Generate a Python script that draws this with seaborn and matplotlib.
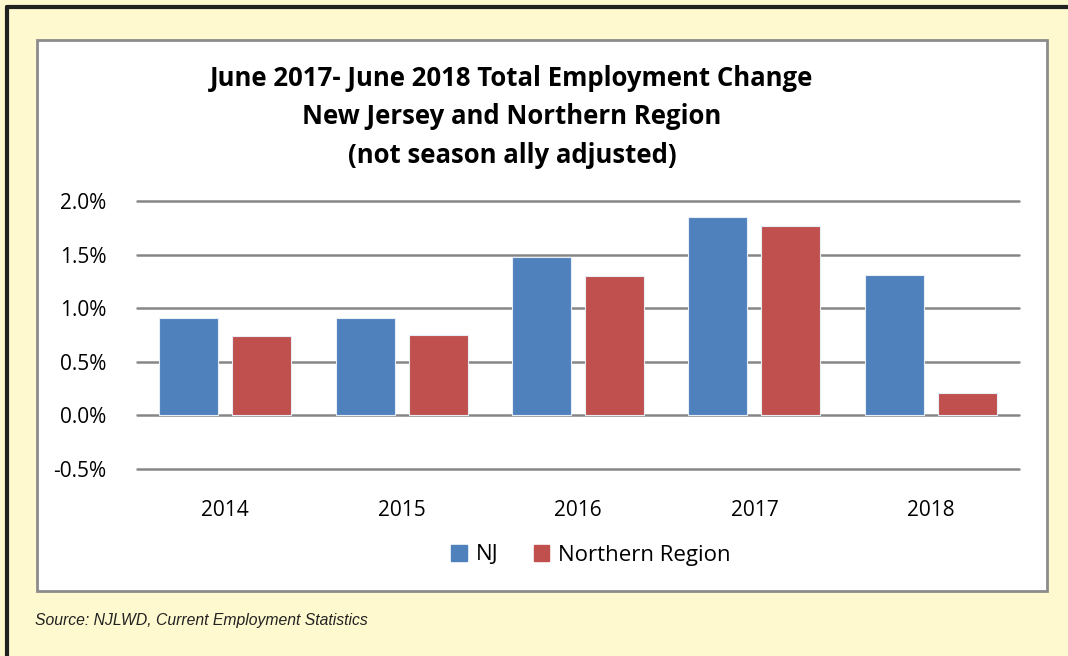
import pandas as pd
import matplotlib
matplotlib.use('agg')
import seaborn as sns
import matplotlib.pyplot as plt
from matplotlib.patches import Rectangle
from matplotlib.lines import Line2D

years = ['2014', '2015', '2016', '2017', '2018']
nj = [0.91, 0.91, 1.48, 1.85, 1.31]
northern = [0.74, 0.75, 1.30, 1.77, 0.21]
series = ['NJ', 'Northern Region']
colors = ['#4F81BD', '#C0504D']
yticks = [-0.5, 0.0, 0.5, 1.0, 1.5, 2.0]

df = pd.DataFrame({
	'year': years * 2,
	'value': nj + northern,
	'series': [series[0]] * len(years) + [series[1]] * len(years),
})

sns.set_style('white')
plt.rcParams['font.family'] = ['Open Sans', 'DejaVu Sans']
plt.rcParams['text.color'] = 'black'
plt.rcParams['xtick.color'] = 'black'
plt.rcParams['ytick.color'] = 'black'

W, H = 1068, 656
fig = plt.figure(figsize=(W / 100, H / 100), dpi=100)
fig.patch.set_facecolor('#FEF9CE')

## outer dark frame (left + top) and inner white chart box, kept behind the axes
fig.add_artist(Line2D([7 / W, 7 / W], [0, 1 - 7 / H], color='#222222', lw=3, zorder=-5))
fig.add_artist(Line2D([7 / W, 1], [1 - 7 / H, 1 - 7 / H], color='#222222', lw=3, zorder=-5))
fig.add_artist(Rectangle((37 / W, 1 - 591 / H), (1047 - 37) / W, (591 - 40) / H,
	transform=fig.transFigure, facecolor='white', edgecolor='#8C8C8C', lw=2, zorder=-5))

ax = fig.add_axes([137 / W, 1 - 469 / H, (1019 - 137) / W, (469 - 201) / H])
ax.set_facecolor('none')
sns.barplot(data=df, x='year', y='value', hue='series', palette=colors,
	width=0.827, gap=0.19, saturation=1, ax=ax, legend=False,
	edgecolor='#E8EEF6', linewidth=0.8)

ax.set_ylim(-0.5, 2.0)
ax.set_xlim(-0.5, 4.5)
ax.set_yticks(yticks)
ax.set_yticklabels(['%.1f%%' % v for v in yticks], fontsize=15)
ax.tick_params(axis='x', labelsize=15, length=0, pad=22)
ax.tick_params(axis='y', length=0, pad=22)
for v in yticks:
	ax.axhline(v, color='#868686', lw=1.8, zorder=0, clip_on=False)
for s in ax.spines.values():
	s.set_visible(False)
ax.set_xlabel('')
ax.set_ylabel('')

fig.text(512 / W, 1 - 117 / H,
	'June 2017- June 2018 Total Employment Change\nNew Jersey and Northern Region\n(not season ally adjusted)',
	ha='center', va='center', fontsize=18.5, fontweight='bold', linespacing=1.55)

handles = [Rectangle((0, 0), 1, 1, color=c) for c in colors]
fig.legend(handles, series, loc='center', bbox_to_anchor=(591 / W, 1 - 555 / H),
	ncol=2, frameon=False, fontsize=16, handlelength=0.7, handleheight=0.7,
	handletextpad=0.4, columnspacing=1.6)

fig.text(35 / W, 1 - 620 / H, 'Source: NJLWD, Current Employment Statistics',
	family=['Liberation Sans', 'DejaVu Sans'], style='italic', fontsize=11.3,
	color='#222222', ha='left', va='center')

plt.savefig('out.png', dpi=100)
